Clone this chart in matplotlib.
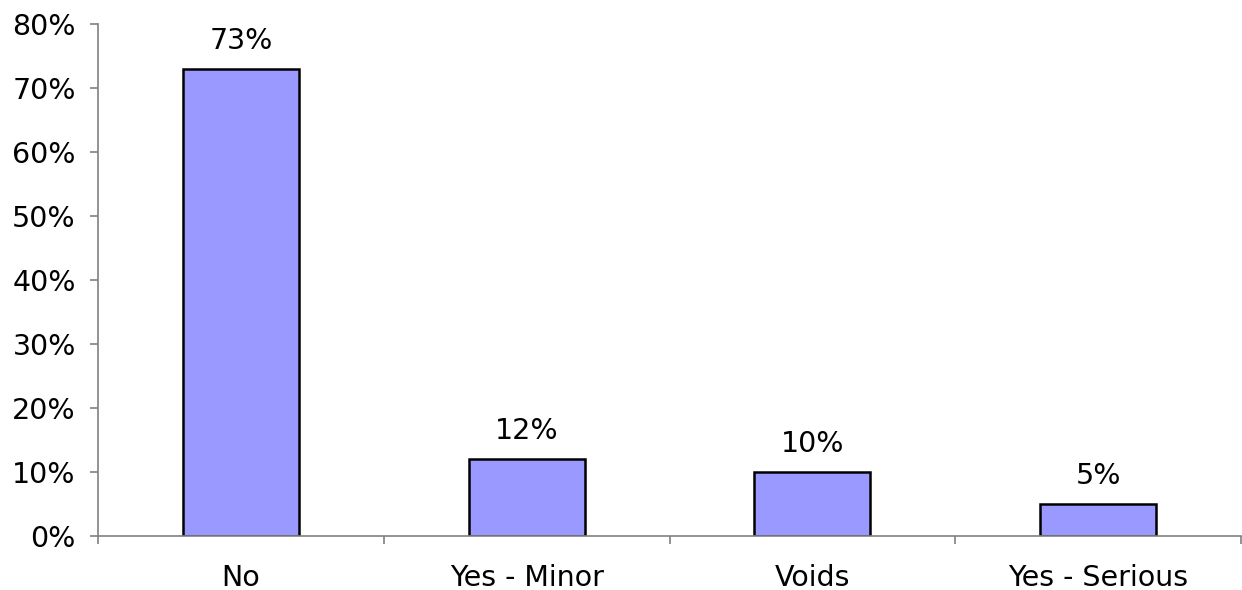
import matplotlib.pyplot as plt
from matplotlib.ticker import PercentFormatter

categories = ["No", "Yes - Minor", "Voids", "Yes - Serious"]
shares = [73, 12, 10, 5]
y_ticks = [0, 10, 20, 30, 40, 50, 60, 70, 80]

FS = 20.5

fig = plt.figure(figsize=(12.42, 5.9), dpi=100)
ax = fig.add_axes([98 / 1242, 1 - 536 / 590, 1143 / 1242, 512 / 590])

x = range(len(categories))
bars = ax.bar(x, shares, width=0.406, color="#9999FF", edgecolor="black", linewidth=1.8)

for rect, val in zip(bars, shares):
    ax.annotate(f"{val}%", (rect.get_x() + rect.get_width() / 2, rect.get_height()),
                xytext=(0, 10), textcoords="offset points",
                ha="center", va="bottom", fontsize=FS, color="black")

ax.set_xlim(-0.5, len(categories) - 0.5)
ax.set_ylim(0, 80)
ax.set_yticks(y_ticks)
ax.yaxis.set_major_formatter(PercentFormatter(decimals=0))

# category ticks sit between the bars, labels under the bar centres
ax.set_xticks([i - 0.5 for i in range(len(categories) + 1)])
ax.set_xticklabels([])
ax.set_xticks(list(x), minor=True)
ax.set_xticklabels(categories, minor=True)
ax.tick_params(axis="x", which="minor", length=0, pad=20, labelsize=FS)
ax.tick_params(axis="x", which="major", length=6, width=1.2, color="#808080")
ax.tick_params(axis="y", length=6, width=1.2, color="#808080", pad=10, labelsize=FS)

for side in ("top", "right"):
    ax.spines[side].set_visible(False)
for side in ("left", "bottom"):
    ax.spines[side].set_color("#808080")
    ax.spines[side].set_linewidth(1.2)

fig.savefig("out.png", dpi=100)
